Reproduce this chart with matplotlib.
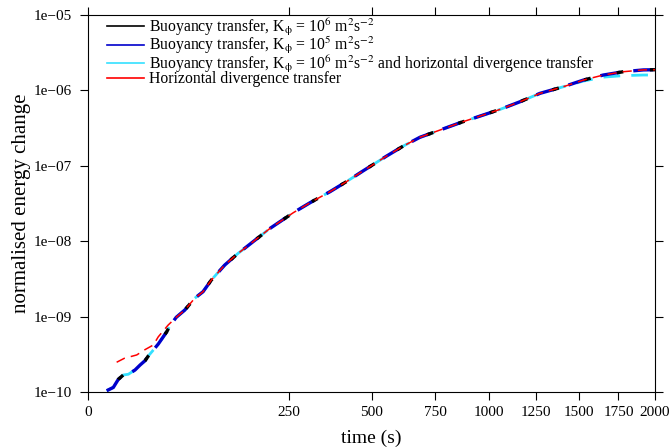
import matplotlib
matplotlib.use("Agg")
import matplotlib.pyplot as plt
from matplotlib.lines import Line2D
import numpy as np

plt.rcParams['font.family'] = ['Liberation Serif', 'DejaVu Serif']
plt.rcParams['mathtext.fontset'] = 'stix'

# main curve (buoyancy transfer, K = 1e6)
t_main = [2.1, 3.9, 5.6, 7.6, 10.0, 13.6, 16.7, 20.0, 22.4, 26.3, 30.5, 35.0, 38.3,
          41.3, 48.2, 57.9, 70.5, 82.0, 94.2, 115.9, 139.7, 149.7, 205.7, 261.8,
          306.2, 363.9, 415.9, 471.0, 554.6, 618.0, 685.0, 770.0, 861.0, 956.0,
          1056.0, 1161.0, 1271.0, 1406.0, 1526.0, 1652.0, 1783.0, 1919.0, 2000.0]
e_main = [1.04e-10, 1.15e-10, 1.47e-10, 1.68e-10, 1.72e-10, 1.96e-10, 2.28e-10,
          2.60e-10, 3.0e-10, 3.6e-10, 4.33e-10, 5.4e-10, 6.3e-10, 7.5e-10, 9.8e-10,
          1.22e-9, 1.75e-9, 2.14e-9, 3.05e-9, 4.83e-9, 6.9e-9, 7.8e-9, 1.48e-8,
          2.39e-8, 3.24e-8, 4.54e-8, 6.2e-8, 8.6e-8, 1.35e-7, 1.83e-7, 2.39e-7,
          2.98e-7, 3.73e-7, 4.57e-7, 5.6e-7, 7.08e-7, 9.15e-7, 1.12e-6, 1.37e-6,
          1.60e-6, 1.77e-6, 1.87e-6, 1.88e-6]

# K = 1e6 with horizontal divergence transfer (drops slightly at the end)
t_cyan = t_main[:-5] + [1526.0, 1652.0, 1783.0, 1919.0, 1960.0]
e_cyan = e_main[:-5] + [1.33e-6, 1.50e-6, 1.57e-6, 1.60e-6, 1.60e-6]

# horizontal divergence transfer (higher at the start)
t_red = [5.0, 8.1, 14.6, 19.5, 26.3, 30.5, 39.6, 48.2] + t_main[15:]
e_red = [2.48e-10, 2.8e-10, 3.1e-10, 3.6e-10, 4.2e-10, 5.4e-10, 7.7e-10, 9.8e-10] + e_main[15:]

labels = [r'Buoyancy transfer, K$_{\mathrm{\phi}}$ = 10$^6$ m$^2$s$^{-2}$',
          r'Buoyancy transfer, K$_{\mathrm{\phi}}$ = 10$^5$ m$^2$s$^{-2}$',
          r'Buoyancy transfer, K$_{\mathrm{\phi}}$ = 10$^6$ m$^2$s$^{-2}$ and horizontal divergence transfer',
          'Horizontal divergence transfer']
colors = ['black', '#0000cc', '#33e0ff', 'red']

xticks = [0, 250, 500, 750, 1000, 1250, 1500, 1750, 2000]
yticks = [1e-10, 1e-9, 1e-8, 1e-7, 1e-6, 1e-5]
ytick_labels = ['1e\u221210', '1e\u221209', '1e\u221208', '1e\u221207', '1e\u221206', '1e\u221205']

fig = plt.figure(figsize=(6.71, 4.48), dpi=100)
ax = fig.add_axes([0.1316, 0.125, 0.8446, 0.8415])

ax.plot(t_main, e_main, color=colors[1], lw=2.4, linestyle=(0, (6, 4)), zorder=2)
ax.plot(t_cyan, e_cyan, color=colors[2], lw=2.0, linestyle=(3, (6, 4)), zorder=1)
ax.plot(t_main, e_main, color=colors[0], lw=2.4, linestyle=(5, (2, 8)), zorder=3)
ax.plot(t_red, e_red, color=colors[3], lw=1.1, linestyle=(0, (6, 4)), zorder=4)

ax.set_xscale('function', functions=(lambda x: np.sqrt(np.clip(x, 0, None)), lambda x: np.square(x)))
ax.set_yscale('log')
ax.set_xlim(0, 2000)
ax.set_ylim(1e-10, 1e-5)
ax.set_xticks(xticks)
ax.set_xticklabels([str(v) for v in xticks])
ax.set_yticks(yticks)
ax.set_yticklabels(ytick_labels)
ax.minorticks_off()
ax.tick_params(direction='out', length=6, width=0.8, labelsize=11,
               top=True, right=True, labeltop=False, labelright=False)
ax.tick_params(axis='y', pad=6)
ax.tick_params(axis='x', pad=4)

ax.set_xlabel('time (s)', fontsize=14, labelpad=8)
ax.set_ylabel('normalised energy change', fontsize=15, labelpad=2)

handles = [Line2D([0], [0], color=c, lw=1.2) for c in colors]
ax.legend(handles, labels, loc='upper left', bbox_to_anchor=(0.031, 1.0), frameon=False,
          fontsize=11.3, handlelength=2.3, handletextpad=0.35, labelspacing=-0.2,
          borderaxespad=0.0, borderpad=0.1)

fig.savefig('out.png', dpi=100)
